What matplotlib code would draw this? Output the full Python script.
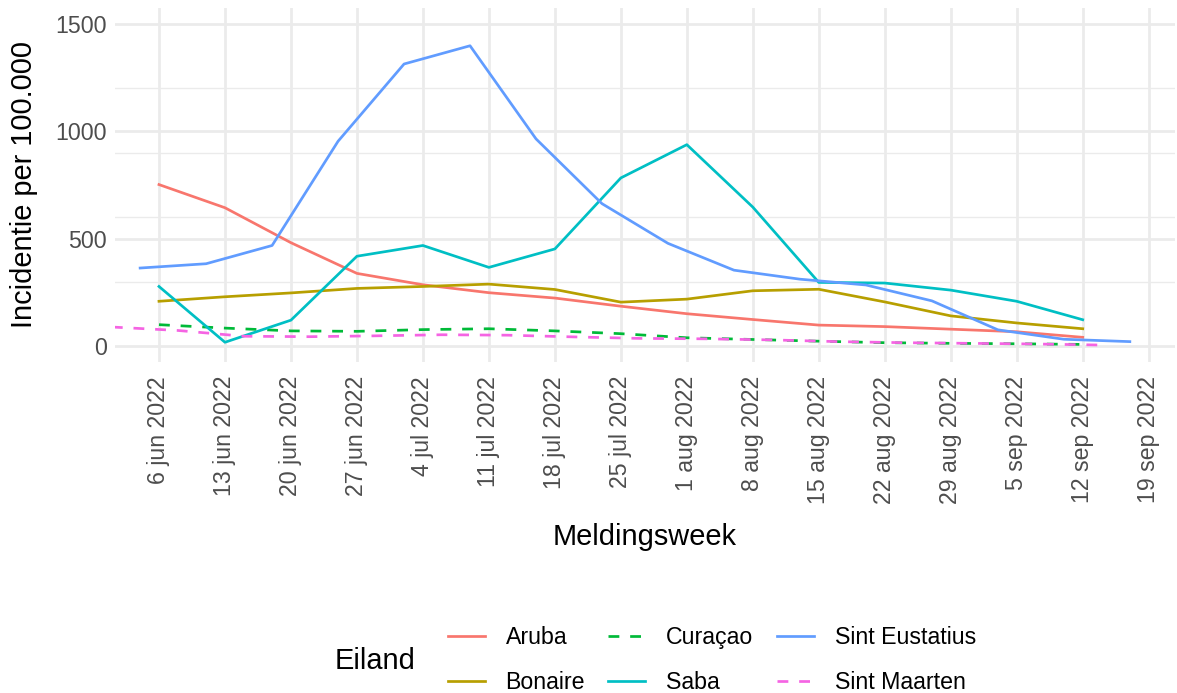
import datetime as dt
import matplotlib
matplotlib.use("Agg")
import matplotlib.pyplot as plt
import matplotlib.dates as mdates
from matplotlib.lines import Line2D

plt.rcParams['font.family'] = ['Liberation Sans', 'DejaVu Sans']

# weekly reporting dates
mondays = [dt.date(2022, 6, 6) + dt.timedelta(weeks=i) for i in range(15)]
saturdays = [dt.date(2022, 6, 4) + dt.timedelta(weeks=i) for i in range(16)]
wednesdays = [dt.date(2022, 6, 1) + dt.timedelta(weeks=i) for i in range(16)]

# incidence per 100.000
aruba = [752, 644, 481, 338, 285, 248, 223, 185, 150, 123, 97, 90, 78, 66, 40]
bonaire = [208, 229, 247, 268, 277, 288, 263, 204, 218, 257, 264, 205, 140, 107, 80]
curacao = [99, 83, 70, 68, 76, 80, 70, 57, 38, 30, 22, 15, 12, 10, 7]
saba = [277, 17, 120, 418, 468, 366, 452, 783, 938, 647, 296, 293, 260, 208, 122]
sint_eustatius = [363, 383, 468, 954, 1314, 1399, 965, 663, 478, 353, 311, 284,
                  210, 75, 31, 20]
sint_maarten = [88, 72, 45, 43, 47, 52, 50, 42, 35, 33, 28, 20, 15, 12, 9, 4]

tick_dates = [dt.date(2022, 6, 6) + dt.timedelta(weeks=i) for i in range(16)]
maanden = {6: "jun", 7: "jul", 8: "aug", 9: "sep"}
tick_labels = [f"{d.day} {maanden[d.month]} {d.year}" for d in tick_dates]

series = [
    ("Aruba", mondays, aruba, "#F8766D", "-"),
    ("Bonaire", mondays, bonaire, "#B79F00", "-"),
    ("Curaçao", mondays, curacao, "#00BA38", (0, (4, 4))),
    ("Saba", mondays, saba, "#00BFC4", "-"),
    ("Sint Eustatius", saturdays, sint_eustatius, "#619CFF", "-"),
    ("Sint Maarten", wednesdays, sint_maarten, "#F564E3", (0, (4, 4))),
]

W, H = 1177, 693
fig = plt.figure(figsize=(W / 100, H / 100), dpi=100)
ax = fig.add_axes([115 / W, 1 - 362 / H, (1175 - 115) / W, (362 - 8) / H])

grid = "#EBEBEB"
for y in [300, 600, 900, 1200]:
    ax.axhline(y, color=grid, lw=0.97, zorder=0)
for y in [0, 500, 1000, 1500]:
    ax.axhline(y, color=grid, lw=1.95, zorder=0)
for d in tick_dates:
    ax.axvline(d, color=grid, lw=1.95, zorder=0)

handles = []
for name, x, y, col, ls in series:
    ax.plot(x, y, color=col, lw=1.95, linestyle=ls, zorder=3)
    handles.append(Line2D([], [], color=col, lw=1.95, linestyle=ls, label=name))

ax.set_ylim(-75, 1575)
ax.set_xlim(dt.datetime(2022, 6, 1, 8), dt.datetime(2022, 9, 21, 19))
ax.set_yticks([0, 500, 1000, 1500])
ax.set_xticks(tick_dates)
ax.set_xticklabels(tick_labels, rotation=90, ha="center", va="top")
ax.tick_params(axis="both", length=0, labelsize=16.7, labelcolor="#4D4D4D")
ax.tick_params(axis="x", pad=10)
ax.tick_params(axis="y", pad=6)
for s in ax.spines.values():
    s.set_visible(False)

ax.set_ylabel("Incidentie per 100.000", fontsize=20.9, labelpad=12)
ax.set_xlabel("Meldingsweek", fontsize=20.9, labelpad=14)

fig.text(335 / W, 1 - 661 / H, "Eiland", fontsize=20.9, ha="left", va="center")
fig.legend(handles=handles, ncol=3, loc="center left",
           bbox_to_anchor=(436 / W, 1 - 660 / H), frameon=False,
           fontsize=16.7, handlelength=1.6, handletextpad=0.9,
           columnspacing=1.0, labelspacing=0.95, borderpad=0)

fig.savefig("out.png", dpi=100)
